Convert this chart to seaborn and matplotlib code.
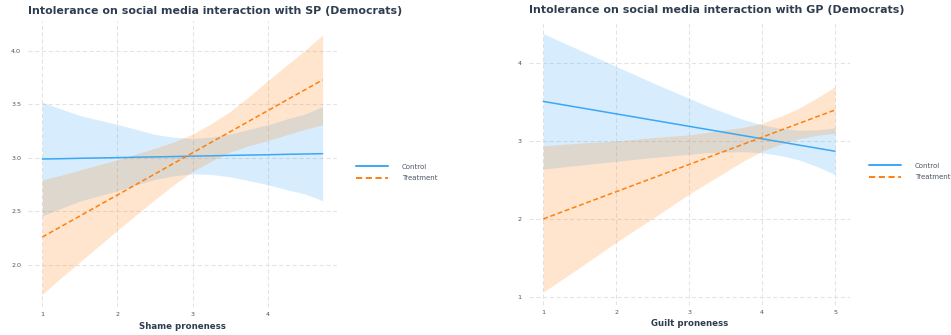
import matplotlib
matplotlib.use("Agg")
import matplotlib.pyplot as plt
import numpy as np
import pandas as pd
import seaborn as sns

# ---- Shame proneness (SP) model: predicted intolerance with 95% CI ----
sp_x = [1.0, 1.25, 1.5, 1.75, 2.0, 2.25, 2.5, 2.75, 3.0, 3.25, 3.5, 3.75, 4.0, 4.25, 4.5, 4.73]
sp_control_fit = [2.990, 2.993, 2.997, 3.000, 3.003, 3.007, 3.010, 3.013, 3.017, 3.020,
                  3.024, 3.027, 3.030, 3.034, 3.037, 3.040]
sp_control_lo = [2.460, 2.528, 2.597, 2.645, 2.693, 2.747, 2.800, 2.833, 2.852, 2.845,
                 2.824, 2.787, 2.750, 2.704, 2.662, 2.600]
sp_control_hi = [3.520, 3.458, 3.397, 3.355, 3.313, 3.267, 3.220, 3.193, 3.182, 3.195,
                 3.224, 3.267, 3.310, 3.364, 3.412, 3.480]
sp_treat_fit = [2.260, 2.359, 2.457, 2.556, 2.654, 2.753, 2.851, 2.950, 3.048, 3.147,
                3.245, 3.344, 3.442, 3.541, 3.639, 3.730]
sp_treat_lo = [1.725, 1.879, 2.027, 2.176, 2.324, 2.468, 2.611, 2.750, 2.873, 2.972,
               3.055, 3.114, 3.162, 3.216, 3.269, 3.310]
sp_treat_hi = [2.795, 2.839, 2.887, 2.936, 2.984, 3.038, 3.091, 3.150, 3.223, 3.322,
               3.435, 3.574, 3.722, 3.866, 4.009, 4.150]

# ---- Guilt proneness (GP) model ----
gp_x = [1.0, 1.25, 1.5, 1.75, 2.0, 2.25, 2.5, 2.75, 3.0, 3.25, 3.5, 3.75, 4.0, 4.25, 4.5, 4.75, 5.0]
gp_control_fit = [3.51, 3.47, 3.43, 3.39, 3.35, 3.31, 3.27, 3.23, 3.19, 3.15, 3.11, 3.07,
                  3.03, 2.99, 2.95, 2.91, 2.87]
gp_control_lo = [2.640, 2.665, 2.690, 2.715, 2.740, 2.765, 2.790, 2.810, 2.830, 2.850,
                 2.860, 2.865, 2.850, 2.815, 2.760, 2.675, 2.570]
gp_control_hi = [4.380, 4.275, 4.170, 4.065, 3.960, 3.855, 3.750, 3.650, 3.550, 3.450,
                 3.360, 3.275, 3.210, 3.165, 3.140, 3.145, 3.170]
gp_treat_fit = [2.000, 2.088, 2.175, 2.263, 2.350, 2.438, 2.525, 2.613, 2.700, 2.788,
                2.875, 2.963, 3.050, 3.138, 3.225, 3.313, 3.400]
gp_treat_lo = [1.060, 1.218, 1.375, 1.538, 1.700, 1.853, 2.005, 2.163, 2.320, 2.463,
               2.605, 2.748, 2.870, 2.958, 3.030, 3.073, 3.100]
gp_treat_hi = [2.940, 2.958, 2.975, 2.988, 3.000, 3.023, 3.045, 3.063, 3.080, 3.113,
               3.145, 3.178, 3.230, 3.318, 3.420, 3.553, 3.700]

conditions = ["Control", "Treatment"]
sp_ticks_y = [2.0, 2.5, 3.0, 3.5, 4.0]
sp_ticks_x = [1, 2, 3, 4]
gp_ticks_y = [1, 2, 3, 4]
gp_ticks_x = [1, 2, 3, 4, 5]

titles = [
    "Intolerance on social media interaction with SP (Democrats)",
    "Intolerance on social media interaction with GP (Democrats)",
]
xlabels = ["Shame proneness", "Guilt proneness"]


def long_frame(x, cfit, clo, chi, tfit, tlo, thi):
    n = len(x)
    return pd.DataFrame({
        "x": list(x) * 2,
        "fit": list(cfit) + list(tfit),
        "lo": list(clo) + list(tlo),
        "hi": list(chi) + list(thi),
        "Condition": [conditions[0]] * n + [conditions[1]] * n,
    })


sp_df = long_frame(sp_x, sp_control_fit, sp_control_lo, sp_control_hi,
                   sp_treat_fit, sp_treat_lo, sp_treat_hi)
gp_df = long_frame(gp_x, gp_control_fit, gp_control_lo, gp_control_hi,
                   gp_treat_fit, gp_treat_lo, gp_treat_hi)

sns.set_theme(style="white")
plt.rcParams["font.family"] = ["DejaVu Sans"]

palette = {"Control": "#3aa8f5", "Treatment": "#ff7f0e"}
dashes = {"Control": "", "Treatment": (3.2, 1.8)}
text_col = "#2e3d4f"
tick_col = "#4a5666"
grid_col = "#e3e3e3"

W, H = 951, 335
fig = plt.figure(figsize=(W / 100, H / 100), dpi=100)
fig.patch.set_facecolor("white")


def px_axes(left, top, right, bottom):
    return fig.add_axes([left / W, 1 - bottom / H, (right - left) / W, (bottom - top) / H])


panels = [
    dict(df=sp_df, ax=px_axes(28.3, 21.4, 336.6, 306.7),
         xlim=(0.8135, 4.9165), ylim=(1.609, 4.277),
         xt=sp_ticks_x, yt=sp_ticks_y, yfmt="{:.1f}",
         leg_x=356, leg_y=172.5, xlab_y=-0.054),
    dict(df=gp_df, ax=px_axes(528.7, 20.8, 849.6, 305.0),
         xlim=(0.8, 5.2), ylim=(0.894, 4.546),
         xt=gp_ticks_x, yt=gp_ticks_y, yfmt="{:d}",
         leg_x=869, leg_y=171.5, xlab_y=-0.049),
]

for i, p in enumerate(panels):
    ax = p["ax"]
    df = p["df"]
    ax.set_facecolor("white")
    for cond in conditions:
        d = df[df["Condition"] == cond]
        ax.fill_between(d["x"], d["lo"], d["hi"], color=palette[cond],
                        alpha=0.2, linewidth=0, zorder=1)
    sns.lineplot(data=df, x="x", y="fit", hue="Condition", style="Condition",
                 palette=palette, dashes=dashes, linewidth=1.1, ax=ax, zorder=3)

    ax.set_xlim(*p["xlim"])
    ax.set_ylim(*p["ylim"])
    ax.set_xticks(p["xt"])
    ax.set_xticklabels([str(v) for v in p["xt"]])
    ax.set_yticks(p["yt"])
    ax.set_yticklabels([p["yfmt"].format(v) for v in p["yt"]])
    ax.tick_params(axis="both", length=0, labelsize=4.6, labelcolor=tick_col)
    ax.tick_params(axis="y", pad=5.2)
    ax.tick_params(axis="x", pad=3.6)
    ax.grid(True, color=grid_col, linewidth=0.75, linestyle=(0, (4, 2.5)), zorder=0)
    ax.set_axisbelow(True)
    for s in ax.spines.values():
        s.set_visible(False)

    ax.set_title(titles[i], loc="left", fontsize=7.9, fontweight="bold",
                 color=text_col, pad=5.3)
    ax.set_xlabel(xlabels[i], fontsize=6.2, fontweight="bold", color=text_col)
    ax.xaxis.set_label_coords(0.5, p["xlab_y"])
    ax.set_ylabel("")

    handles, labels = ax.get_legend_handles_labels()
    if ax.get_legend() is not None:
        ax.get_legend().remove()
    leg = fig.legend(handles, labels, loc="center left",
                     bbox_to_anchor=(p["leg_x"] / W, 1 - p["leg_y"] / H),
                     frameon=False, fontsize=5.0, handlelength=4.6,
                     handletextpad=2.0, labelspacing=0.75, borderpad=0,
                     borderaxespad=0)
    for t in leg.get_texts():
        t.set_color(tick_col)
    for ln in leg.get_lines():
        ln.set_linewidth(1.4)

fig.savefig("out.png", dpi=100, facecolor="white")
